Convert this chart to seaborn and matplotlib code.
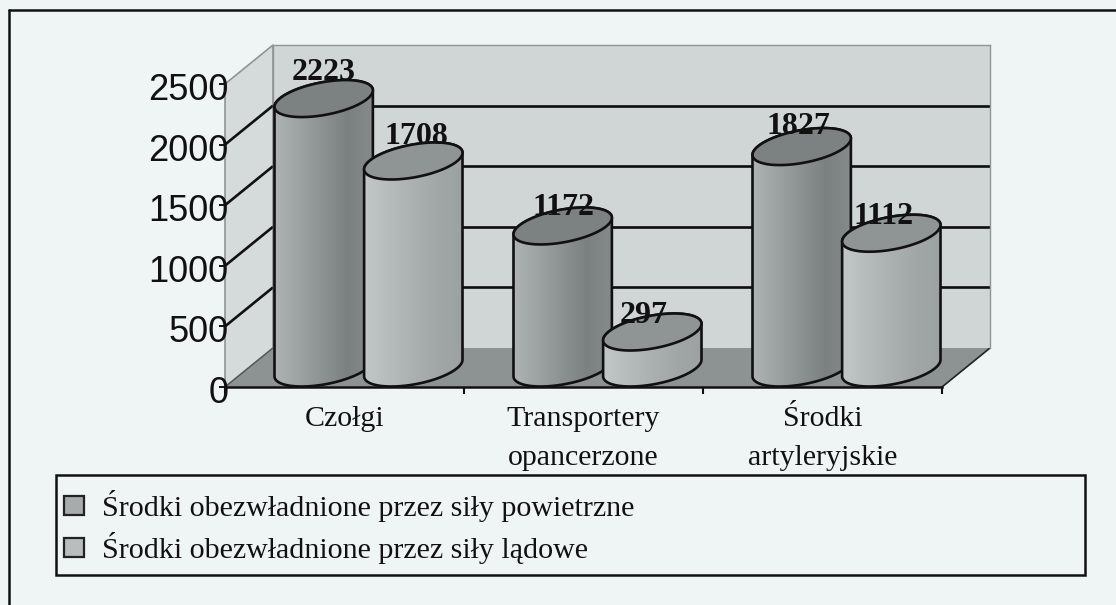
import numpy as np
import pandas as pd
import seaborn as sns
import matplotlib
matplotlib.use("Agg")
import matplotlib.pyplot as plt
from matplotlib.patches import Polygon, Rectangle
from matplotlib.transforms import ScaledTranslation

categories = ["Czołgi", "Transportery\nopancerzone", "Środki\nartyleryjskie"]
series_names = ["Środki obezwładnione przez siły powietrzne", "Środki obezwładnione przez siły lądowe"]
air_values = [2223, 1172, 1827]
land_values = [1708, 297, 1112]
y_ticks = [0, 500, 1000, 1500, 2000, 2500]

W, H = 1116, 605
PAGE = "#eff4f4"
SERIF = "Liberation Serif"
SANS = "Liberation Sans"

sns.set_theme(style="white")
fig = plt.figure(figsize=(W / 100, H / 100), dpi=100, facecolor=PAGE)


def axes_px(x0, y0, x1, y1, **kw):
    """Axes from image pixel box (y measured downward)."""
    return fig.add_axes([x0 / W, 1 - y1 / H, (x1 - x0) / W, (y1 - y0) / H], **kw)


# Pixel-space layer for page, side wall and floor
bg = axes_px(0, 0, W, H, zorder=0)
bg.set_xlim(0, W)
bg.set_ylim(H, 0)
bg.axis("off")
bg.add_patch(Polygon([(225, 84), (273, 45), (273, 348), (225, 387)], fc="#d5dbdb", ec="#8f9494", lw=1.2))
bg.add_patch(Polygon([(225, 387), (942, 387), (990, 348), (273, 348)], fc="#8d9292", ec="none"))
bg.plot([942, 990], [387, 348], color="#222222", lw=1.2)
bg.plot([225, 273], [387, 348], color="#555555", lw=1.0)
for v in y_ticks[1:-1]:
    yf = 387 - v * 303 / 2500
    bg.plot([225, 273], [yf, yf - 39], color="#111111", lw=1.9, solid_capstyle="butt")
# Outer frame: runs off the page at the right and bottom
bg.plot([9, 9], [H, 10], color="#111111", lw=1.8)
bg.plot([9, W], [10, 10], color="#111111", lw=1.8)

# Back wall with gridlines
back = axes_px(273, 45, 990, 348, zorder=1, facecolor="#d0d6d6")
back.set_ylim(0, 2500)
back.set_xlim(-0.5, 2.5)
back.set_xticks([])
back.set_yticks(y_ticks)
back.set_yticklabels([])
back.tick_params(left=False)
back.grid(axis="y", color="#0d0d0d", lw=1.9)
back.set_axisbelow(True)
for v, gl in zip(y_ticks, back.get_ygridlines()):
    if v in (y_ticks[0], y_ticks[-1]):
        gl.set_visible(False)
for name, s in back.spines.items():
    s.set_visible(name in ("top", "right", "left"))
    s.set_color("#8f9494")
    s.set_linewidth(1.0)

# Front plane: axes, ticks, labels
front = axes_px(225, 84, 942, 387, zorder=2, facecolor="none")
front.set_xlim(-0.5, 2.5)
front.set_ylim(0, 2500)
front.set_yticks(y_ticks)
front.set_yticklabels([str(v) for v in y_ticks], fontsize=26, family=SANS, color="#111111", va="center")
front.tick_params(axis="y", left=True, length=4.5, width=1.4, color="#111111", pad=-7)
shift = ScaledTranslation(0, -6.5 / 100, fig.dpi_scale_trans)
for lab in front.get_yticklabels():
    lab.set_transform(lab.get_transform() + shift)
front.set_xticks([-0.5, 0.5, 1.5, 2.5])
front.set_xticklabels([])
front.tick_params(axis="x", bottom=True, length=5, width=1.5, color="#111111")
front.set_xticks([0, 1, 2], minor=True)
front.set_xticklabels(categories, minor=True, fontsize=21.5, family=SERIF, color="#111111", linespacing=1.62, va="top")
front.tick_params(axis="x", which="minor", length=0, pad=14)
for name, s in front.spines.items():
    s.set_visible(name in ("bottom",))
front.spines["bottom"].set_color("#111111")
front.spines["bottom"].set_linewidth(1.8)

# Bars at mid depth; the axes reach below zero to hold the cylinder bases
PX_X = 3 / 717
PX_Y = 2500 / 303
BELOW = 24
bars_ax = axes_px(249, 65, 966, 368 + BELOW, zorder=3, facecolor="none")
df = pd.DataFrame({
    "category": categories * 2,
    "series": [series_names[0]] * 3 + [series_names[1]] * 3,
    "value": air_values + land_values,
})
sns.barplot(data=df, x="category", y="value", hue="series", hue_order=series_names,
            palette=["#8f9494", "#a9aeae"], width=0.75, gap=-0.093, dodge=True,
            ax=bars_ax, legend=False, errorbar=None, edgecolor="none")
YLIM = (-BELOW * PX_Y, 2500)
bars_ax.set_xlim(-0.5, 2.5)
bars_ax.set_ylim(*YLIM)
bars_ax.axis("off")

U, VX, VY = 44.0, 22.0, 18.5
T0 = np.arctan2(VX, U)
styles = [
    dict(grad=["#aeb3b3", "#9da2a2", "#8c9191", "#7b8080", "#858a8a"], top="#7c8181"),
    dict(grad=["#c2c7c7", "#b6bbbb", "#abb0b0", "#a1a6a6", "#9ca1a1"], top="#8f9494"),
]
lifts = [[26, 18, 20], [24, 17, 17]]
nudges = [[0, 1, -3], [3, -9, -8]]
cmap_from = matplotlib.colors.LinearSegmentedColormap.from_list


def ell(cx, cy, t):
    return np.c_[cx + (U * np.cos(t) + VX * np.sin(t)) * PX_X,
                 cy + VY * np.sin(t) * PX_Y]


for j, cont in enumerate(bars_ax.containers):
    st = styles[j]
    cm = cmap_from("g", st["grad"])
    for i, (bar, val) in enumerate(zip(cont.patches, cont.datavalues)):
        z = 10 + 10 * (2 * i + j)
        cx = bar.get_x() + bar.get_width() / 2
        top_t = np.linspace(T0, T0 + np.pi, 80)
        bot_t = np.linspace(T0 + np.pi, T0 + 2 * np.pi, 80)
        sil = np.vstack([ell(cx, val, top_t), ell(cx, 0, bot_t)])
        body = Polygon(sil, closed=True, transform=bars_ax.transData, fc="none", ec="none", clip_on=False)
        bars_ax.add_patch(body)
        bar.set_zorder(z)
        bar.set_clip_path(body)
        half = sil[:, 0].max() - cx
        im = bars_ax.imshow(np.linspace(0, 1, 128)[None, :], cmap=cm, aspect="auto",
                            extent=(cx - half, cx + half, sil[:, 1].min(), sil[:, 1].max()),
                            zorder=z + 1)
        im.set_clip_path(body)
        bars_ax.add_patch(Polygon(sil, closed=True, fc="none", ec="#111111", lw=1.9, zorder=z + 2, clip_on=False, joinstyle="round"))
        cap = ell(cx, val, np.linspace(0, 2 * np.pi, 160))
        bars_ax.add_patch(Polygon(cap, closed=True, fc=st["top"], ec="#111111", lw=1.9, zorder=z + 3, clip_on=False))
        bars_ax.annotate(f"{int(val)}", (cx, val), xytext=(nudges[j][i] * 0.72, lifts[j][i] * 0.72), textcoords="offset points",
                         ha="center", va="center", fontsize=23, family=SERIF, fontweight="bold",
                         color="#111111", zorder=z + 4, annotation_clip=False)
bars_ax.set_xlim(-0.5, 2.5)
bars_ax.set_ylim(*YLIM)

# Legend: box spans wider than its entries
bg.add_patch(Rectangle((56, 475), 1029, 100, fc=PAGE, ec="#111111", lw=1.8, zorder=1))
handles = [Rectangle((0, 0), 1, 1, fc=c, ec="#222222", lw=1.6) for c in ("#a6abab", "#b8bdbd")]
leg = bg.legend(handles, series_names, loc="lower left",
                bbox_to_anchor=(52 / W, 1 - 576 / H), bbox_transform=fig.transFigure,
                ncols=1, prop={"family": SERIF, "size": 21.6}, frameon=False, borderaxespad=0,
                handlelength=0.667, handleheight=0.6, handletextpad=0.6, labelspacing=0.33,
                borderpad=0.4, labelcolor="#111111")
leg.set_zorder(5)

fig.savefig("out.png", dpi=100, facecolor=PAGE)
